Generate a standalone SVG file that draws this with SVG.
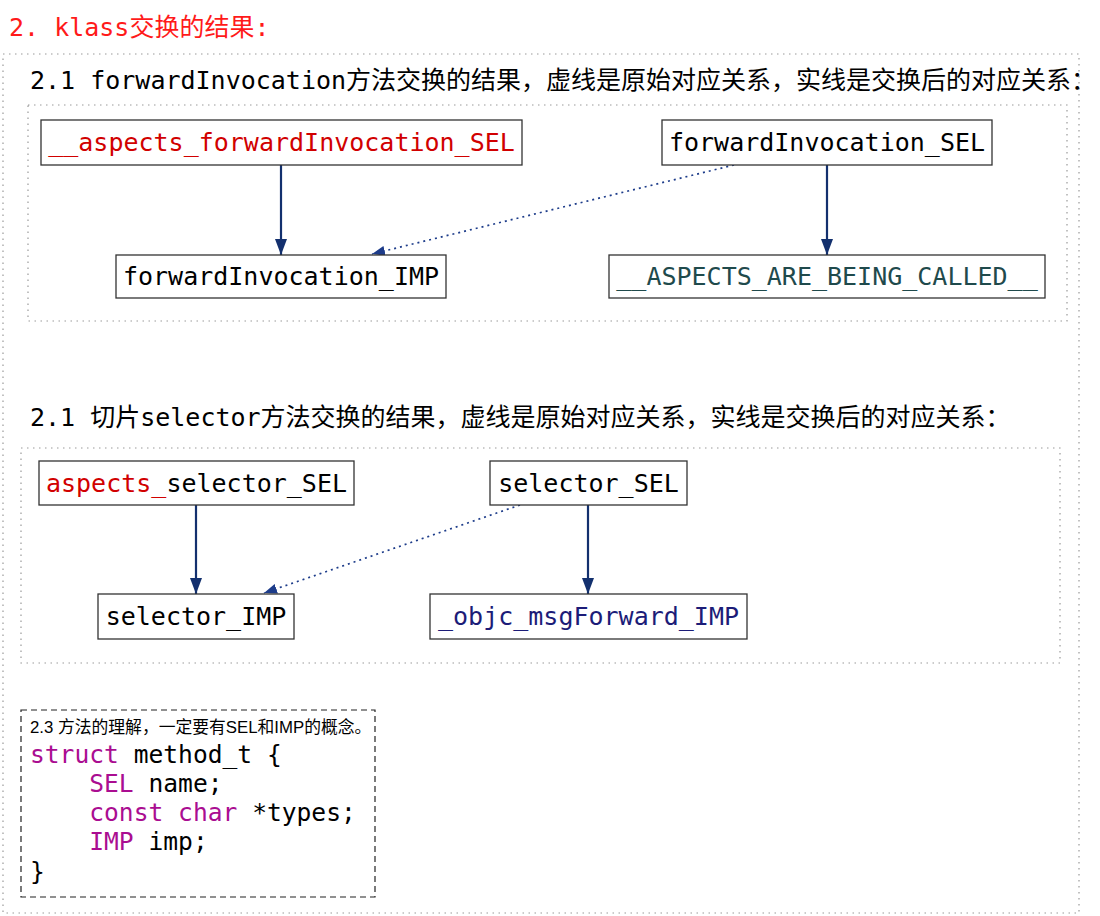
<svg xmlns="http://www.w3.org/2000/svg" width="1100" height="916" viewBox="0 0 1100 916">
<defs>
<style>
.mono{font-family:"DejaVu Sans Mono","Noto Sans CJK SC",monospace;font-size:25px;}
.code{font-family:"DejaVu Sans Mono","Noto Sans CJK SC",monospace;font-size:24.6px;fill:#000;}
.kw{fill:#AA0D91;}
.frame{fill:none;stroke:#9a9a9a;stroke-width:1.2;stroke-dasharray:1.5 4.5;}
.node rect{fill:#fff;stroke:#333;stroke-width:1.3;}
.node text{font-family:"DejaVu Sans Mono",monospace;font-size:25px;text-anchor:middle;fill:#000;}
.solid{stroke:#13306e;stroke-width:2.2;fill:none;}
.dot{stroke:#1d3c8a;stroke-width:1.7;stroke-dasharray:2 4;fill:none;}
</style>
<marker id="ah" viewBox="0 0 16 12" refX="16" refY="6" markerWidth="16" markerHeight="12" markerUnits="userSpaceOnUse" orient="auto">
<path d="M0,0 L16,6 L0,12 Z" fill="#13306e"/>
</marker>
<marker id="ahd" viewBox="0 0 13 10" refX="13" refY="5" markerWidth="13" markerHeight="10" markerUnits="userSpaceOnUse" orient="auto">
<path d="M0,0 L13,5 L0,10 Z" fill="#1d3c8a"/>
</marker>
</defs>
<rect width="1100" height="916" fill="#fff"/>

<text x="9" y="36" class="mono" fill="#ff1a1a">2. klass交换的结果:</text>

<rect class="frame" x="3" y="54" width="1076" height="859"/>

<text x="30" y="89" class="mono" fill="#000">2.1 forwardInvocation方法交换的结果，虚线是原始对应关系，实线是交换后的对应关系：</text>
<rect class="frame" x="28" y="105" width="1039" height="216"/>

<text x="30" y="426" class="mono" fill="#000">2.1 切片selector方法交换的结果，虚线是原始对应关系，实线是交换后的对应关系：</text>
<rect class="frame" x="21" y="448" width="1039" height="215"/>

<g id="connectors">
<line class="solid" x1="281" y1="165" x2="281" y2="255" marker-end="url(#ah)"/>
<line class="solid" x1="827" y1="165" x2="827" y2="255" marker-end="url(#ah)"/>
<line class="dot" x1="734" y1="165" x2="372" y2="254" marker-end="url(#ahd)"/>
<line class="solid" x1="196" y1="505" x2="196" y2="594" marker-end="url(#ah)"/>
<line class="solid" x1="588" y1="505" x2="588" y2="594" marker-end="url(#ah)"/>
<line class="dot" x1="520" y1="505" x2="264" y2="593" marker-end="url(#ahd)"/>
</g>

<g id="n_aspects_fi_sel" class="node">
<rect x="41" y="120" width="481" height="45"/>
<text x="281.5" y="151" style="fill:#d10000">__aspects_forwardInvocation_SEL</text>
</g>
<g id="n_fi_imp" class="node">
<rect x="116" y="255" width="330" height="43"/>
<text x="281" y="285">forwardInvocation_IMP</text>
</g>
<g id="n_fi_sel" class="node">
<rect x="662" y="120" width="330" height="45"/>
<text x="827" y="151">forwardInvocation_SEL</text>
</g>
<g id="n_aspects_called" class="node">
<rect x="609" y="255" width="436" height="43"/>
<text x="827" y="285" style="fill:#1f4a4c">__ASPECTS_ARE_BEING_CALLED__</text>
</g>

<g id="n_aspects_sel_sel" class="node">
<rect x="39" y="461" width="315" height="44"/>
<text x="196.5" y="492"><tspan style="fill:#d10000">aspects_</tspan>selector_SEL</text>
</g>
<g id="n_sel_imp" class="node">
<rect x="98" y="594" width="196" height="45"/>
<text x="196" y="625">selector_IMP</text>
</g>
<g id="n_sel_sel" class="node">
<rect x="490" y="461" width="197" height="44"/>
<text x="588.5" y="492">selector_SEL</text>
</g>
<g id="n_objc_fwd" class="node">
<rect x="430" y="594" width="317" height="45"/>
<text x="588.5" y="625" style="fill:#1c1c78">_objc_msgForward_IMP</text>
</g>

<g id="n_code">
<rect x="21" y="710" width="354" height="187" fill="none" stroke="#222" stroke-width="1.2" stroke-dasharray="6 4"/>
<text x="30" y="733" font-family="Liberation Sans,'Noto Sans CJK SC',sans-serif" font-size="16.8" fill="#000">2.3 方法的理解，一定要有SEL和IMP的概念。</text>
<text class="code" x="30" y="763" xml:space="preserve"><tspan class="kw">struct</tspan> method_t {</text>
<text class="code" x="30" y="792" xml:space="preserve">    <tspan class="kw">SEL</tspan> name;</text>
<text class="code" x="30" y="821" xml:space="preserve">    <tspan class="kw">const</tspan> <tspan class="kw">char</tspan> *types;</text>
<text class="code" x="30" y="850" xml:space="preserve">    <tspan class="kw">IMP</tspan> imp;</text>
<text class="code" x="30" y="880">}</text>
</g>
</svg>
